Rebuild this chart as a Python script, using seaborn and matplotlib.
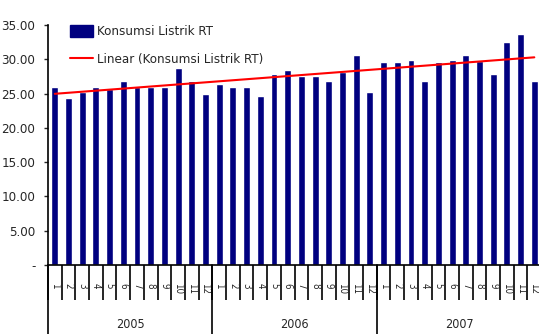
import numpy as np
import pandas as pd
import matplotlib
matplotlib.use("Agg")
import matplotlib.pyplot as plt
import seaborn as sns
from matplotlib.patches import Patch
from matplotlib.lines import Line2D

# monthly data 2005-2007
years = ["2005", "2006", "2007"]
months = [str(m) for m in range(1, 13)]
konsumsi = [26.0, 24.3, 25.2, 26.0, 25.7, 26.9, 26.0, 26.0, 26.0, 28.7, 26.9, 24.9,
            26.4, 26.0, 26.0, 24.6, 27.8, 28.4, 27.5, 27.5, 26.9, 28.2, 30.7, 25.2,
            29.6, 29.6, 29.9, 26.9, 29.6, 29.9, 30.7, 29.7, 27.8, 32.5, 33.7, 26.9]
yticks = [0, 5, 10, 15, 20, 25, 30, 35]
ytick_labels = ["-", "5.00", "10.00", "15.00", "20.00", "25.00", "30.00", "35.00"]

sns.set_style("white")
plt.rcParams['font.family'] = ['DejaVu Sans']
plt.rcParams['font.stretch'] = 'condensed'

df = pd.DataFrame({"idx": np.arange(len(konsumsi)), "val": konsumsi})

fig = plt.figure(figsize=(5.39, 3.34), dpi=100)
ax = fig.add_axes([0.089, 0.207, 0.915, 0.718])

sns.barplot(data=df, x="idx", y="val", color="#000080", width=0.5,
            saturation=1, ax=ax, native_scale=True)
sns.regplot(data=df, x="idx", y="val", scatter=False, ci=None, truncate=True,
            color="red", line_kws={"linewidth": 1.5}, ax=ax)

n = len(konsumsi)
ax.set_xlim(-0.5, n - 0.5)
ax.set_ylim(0, 35)
ax.set_yticks(yticks)
ax.set_yticklabels(ytick_labels, fontsize=9.5)
ax.tick_params(axis="y", left=True, length=3, width=1, direction="out", pad=6)

# category boundaries as major ticks, months as minor tick labels
ax.set_xticks(np.arange(-0.5, n, 1.0))
ax.set_xticklabels([])
ax.tick_params(axis="x", which="major", bottom=True, length=25, width=1.2, color="black")
ax.set_xticks(np.arange(n), minor=True)
ax.set_xticklabels(months * len(years), minor=True, rotation=-90, fontsize=7)
ax.tick_params(axis="x", which="minor", length=0, pad=13)
ax.set_xlabel("")
ax.set_ylabel("")

for s in ["top", "right"]:
    ax.spines[s].set_visible(False)
for s in ["left", "bottom"]:
    ax.spines[s].set_color("black")
    ax.spines[s].set_linewidth(1.2)

trans = matplotlib.transforms.blended_transform_factory(ax.transData, ax.transAxes)
for k in range(len(years) + 1):
    ax.plot([k * 12 - 0.5] * 2, [0, -0.3], color="black", lw=1.2,
            transform=trans, clip_on=False)
for k, yr in enumerate(years):
    ax.text(k * 12 + 5.5, -0.25, yr, transform=trans, ha="center", va="center",
            fontsize=9)

handles = [Patch(color="#000080"), Line2D([0], [0], color="red", lw=1.5)]
ax.legend(handles, ["Konsumsi Listrik RT", "Linear (Konsumsi Listrik RT)"],
          loc="upper left", bbox_to_anchor=(0.02, 1.05), frameon=False,
          fontsize=9.5, labelspacing=1.1, handlelength=1.8, handleheight=1.0,
          handletextpad=0.3)

fig.savefig("out.png", dpi=100)
